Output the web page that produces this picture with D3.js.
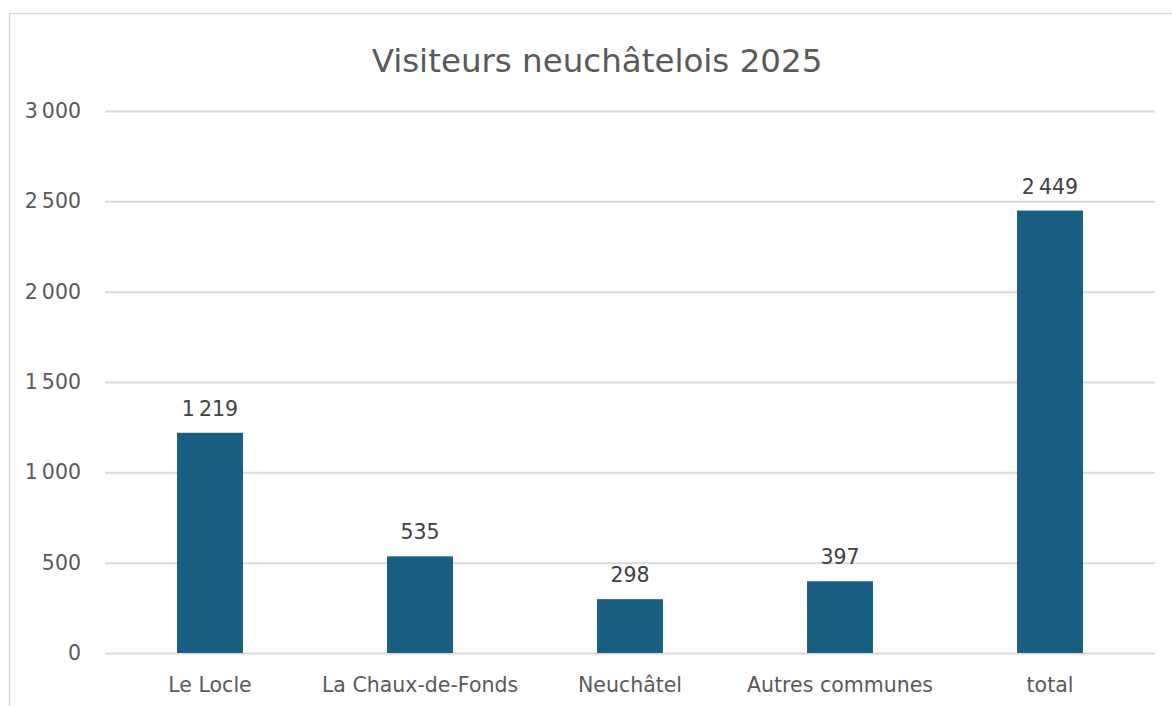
<!DOCTYPE html>
<html><head><meta charset="utf-8">
<script src="https://cdn.jsdelivr.net/npm/d3@7"></script>
<style>body{margin:0;background:#fff}svg{display:block}</style>
</head><body>
<svg id="c" width="1172" height="706"></svg>
<script>
const categories = ["Le Locle","La Chaux-de-Fonds","Neuchâtel","Autres communes","total"];
const values = [1219, 535, 298, 397, 2449];
const yTicks = [0, 500, 1000, 1500, 2000, 2500, 3000];
const title = "Visiteurs neuchâtelois 2025";

const svg = d3.select("#c");
const font = "'DejaVu Sans', sans-serif";
const fmt = v => { const s = String(v); return s.length > 3 ? s.slice(0, -3) + "\u202F" + s.slice(-3) : s; };

svg.append("rect").attr("x",9.5).attr("y",13.5).attr("width",1170).attr("height",700)
  .attr("fill","#fff").attr("stroke","#d9d9d9").attr("stroke-width",1.5);

const x = d3.scaleBand().domain(categories).range([105,1155]).paddingInner(0.686).paddingOuter(0.343);
const y = d3.scaleLinear().domain([0,3000]).range([653,111]);

const yAxis = svg.append("g").attr("transform","translate(105,0)")
  .call(d3.axisLeft(y).tickValues(yTicks).tickSize(-1050).tickFormat(fmt).tickPadding(24));
yAxis.select(".domain").remove();
yAxis.selectAll("line").attr("stroke","#d9d9d9").attr("stroke-width",2);
yAxis.selectAll("text").attr("fill","#595959").style("font-family",font).style("font-size","20.5px");

const xAxis = svg.append("g").attr("transform","translate(0,653)")
  .call(d3.axisBottom(x).tickSize(0).tickPadding(24));
xAxis.select(".domain").remove();
xAxis.selectAll("text").attr("fill","#595959").style("font-family",font).style("font-size","20.5px");

svg.append("g").selectAll("rect").data(values).join("rect")
  .attr("x",(d,i)=>x(categories[i])).attr("width",x.bandwidth())
  .attr("y",d=>y(d)).attr("height",d=>y(0)-y(d)).attr("fill","#175e80");

svg.append("g").selectAll("text").data(values).join("text")
  .attr("x",(d,i)=>x(categories[i])+x.bandwidth()/2).attr("y",d=>y(d)-17)
  .attr("text-anchor","middle").attr("fill","#404040")
  .style("font-family",font).style("font-size","20.5px").text(fmt);

svg.append("text").attr("x",597).attr("y",72).attr("text-anchor","middle")
  .attr("fill","#595959").style("font-family",font).style("font-size","32.5px").text(title);
</script>
</body></html>
